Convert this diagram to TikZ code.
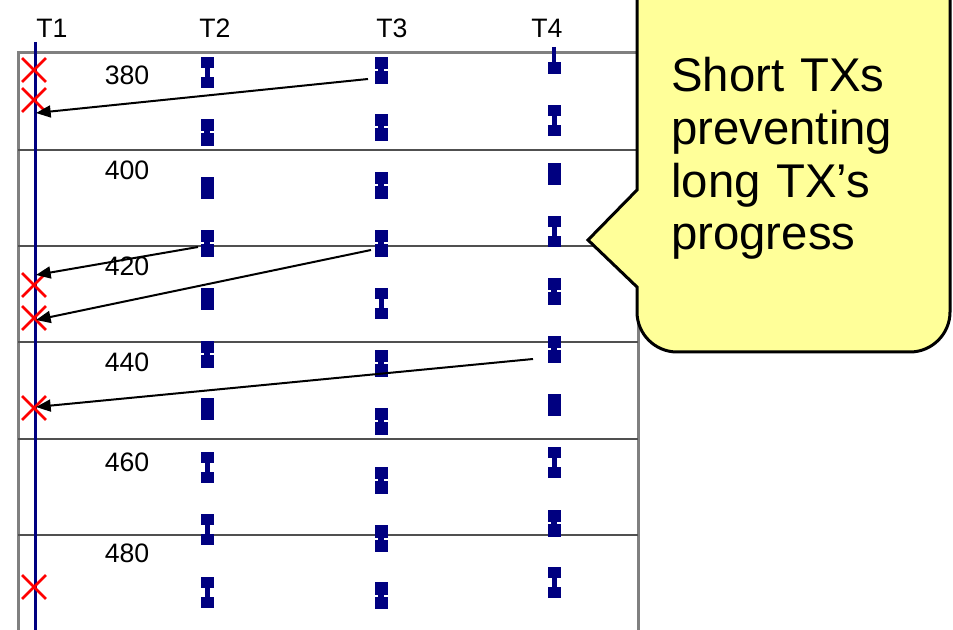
\documentclass[tikz,border=0pt]{standalone}
\usepackage{fontspec}
\setmainfont{Liberation Sans}
\usetikzlibrary{arrows.meta,shapes.misc}
\definecolor{navy}{HTML}{000080}
\definecolor{notefill}{HTML}{FFFF99}
\definecolor{framegray}{HTML}{808080}
\definecolor{rowgray}{HTML}{505050}

\begin{document}
\begin{tikzpicture}[x=0.75pt,y=-0.75pt,
blk/.style={fill=navy},
hg/.pic={\fill[blk] (-6.5,0) rectangle (6.5,11);
         \fill[blk] (-2.5,11) rectangle (2.5,20);
         \fill[blk] (-6.5,20) rectangle (6.5,31);},
nt/.pic={\fill[blk] (-6.5,0) rectangle (6.5,12.5);
         \fill[blk] (-3,12.5) rectangle (3,14.5);
         \fill[blk] (-6.5,14.5) rectangle (6.5,27);},
sl/.pic={\fill[blk] (-6.5,0) rectangle (6.5,22);},
xmark/.style={cross out, draw=red, line width=1.9pt, minimum size=16pt, inner sep=0pt},
hdr/.style={font=\fontsize{20}{22}\selectfont},
lbl/.style={font=\fontsize{20}{22}\selectfont},
abort/.style={-{Triangle[length=11pt,width=9pt]}, line width=1.5pt},
]
\clip (0,0) rectangle (953,630);
\fill[white] (0,0) rectangle (953,630);

%Frame and rows
\draw[framegray, line width=2.25pt] (18,660) -- (18,53) -- (638,53) -- (638,660);
\foreach \y in {150,246,342,439,535}
  \draw[rowgray, line width=0.9pt] (18,\y) -- (638,\y);

%Threads
\node[hdr] (h1) at (52,28) {T1};
\node[hdr] (h2) at (215,28) {T2};
\node[hdr] (h3) at (392,28) {T3};
\node[hdr] (h4) at (547,28) {T4};
\draw[navy, line width=2.25pt] (35,42) -- (35,660);

%Times
\node[lbl] (n380) at (127,75) {380};
\node[lbl] (n400) at (127,170) {400};
\node[lbl] (n420) at (127,266) {420};
\node[lbl] (n440) at (127,362) {440};
\node[lbl] (n460) at (127,462) {460};
\node[lbl] (n480) at (127,553) {480};

%Short transactions
\foreach \y/\k in {57/hg,119/nt,177/sl,230/nt,288/sl,341/nt,398/sl,452/hg,514/hg,577/hg}
  \pic at (207,\y) {\k};
\foreach \y/\k in {57/nt,114/nt,172/nt,230/nt,288/hg,350/nt,408/nt,467/nt,525/nt,582/nt}
  \pic at (381,\y) {\k};
\draw[navy, line width=3pt] (554,47) -- (554,63);
\fill[blk] (547.5,62) rectangle (560.5,74);
\foreach \y/\k in {105/hg,163/sl,216/hg,278/nt,336/nt,394/sl,447/hg,510/nt,567/hg}
  \pic at (554,\y) {\k};

%Aborts of T1
\node[xmark] (x1) at (34,70) {};
\node[xmark] (x2) at (34,100) {};
\node[xmark] (x3) at (34,285) {};
\node[xmark] (x4) at (34,318) {};
\node[xmark] (x5) at (34,408) {};
\node[xmark] (x6) at (34,587) {};

\coordinate (t3a) at (368,79);
\coordinate (t2d) at (198,247);
\coordinate (t3d) at (371,250);
\coordinate (t4f) at (533,359);
\coordinate (k1) at (36,113);
\coordinate (k2) at (36,275);
\coordinate (k3) at (36,320);
\coordinate (k4) at (36,407);
\draw[abort] (t3a) -- (k1);
\draw[abort] (t2d) -- (k2);
\draw[abort] (t3d) -- (k3);
\draw[abort] (t4f) -- (k4);

%Callout
\filldraw[fill=notefill, draw=black, line width=2.25pt]
  (637,-30) -- (637,190) -- (588,240) -- (637,287) -- (637,312)
  .. controls (637,334) and (655,352) .. (677,352) -- (910,352)
  .. controls (932,352) and (950,334) .. (950,312) -- (950,-30) -- cycle;
\node[anchor=base west, text width=270pt, align=left, inner sep=0pt,
  font=\fontsize{35.5}{39.5}\selectfont] (note) at (671,92)
  {Short TXs\\preventing\\long TX’s\\progress};
\end{tikzpicture}
\end{document}
